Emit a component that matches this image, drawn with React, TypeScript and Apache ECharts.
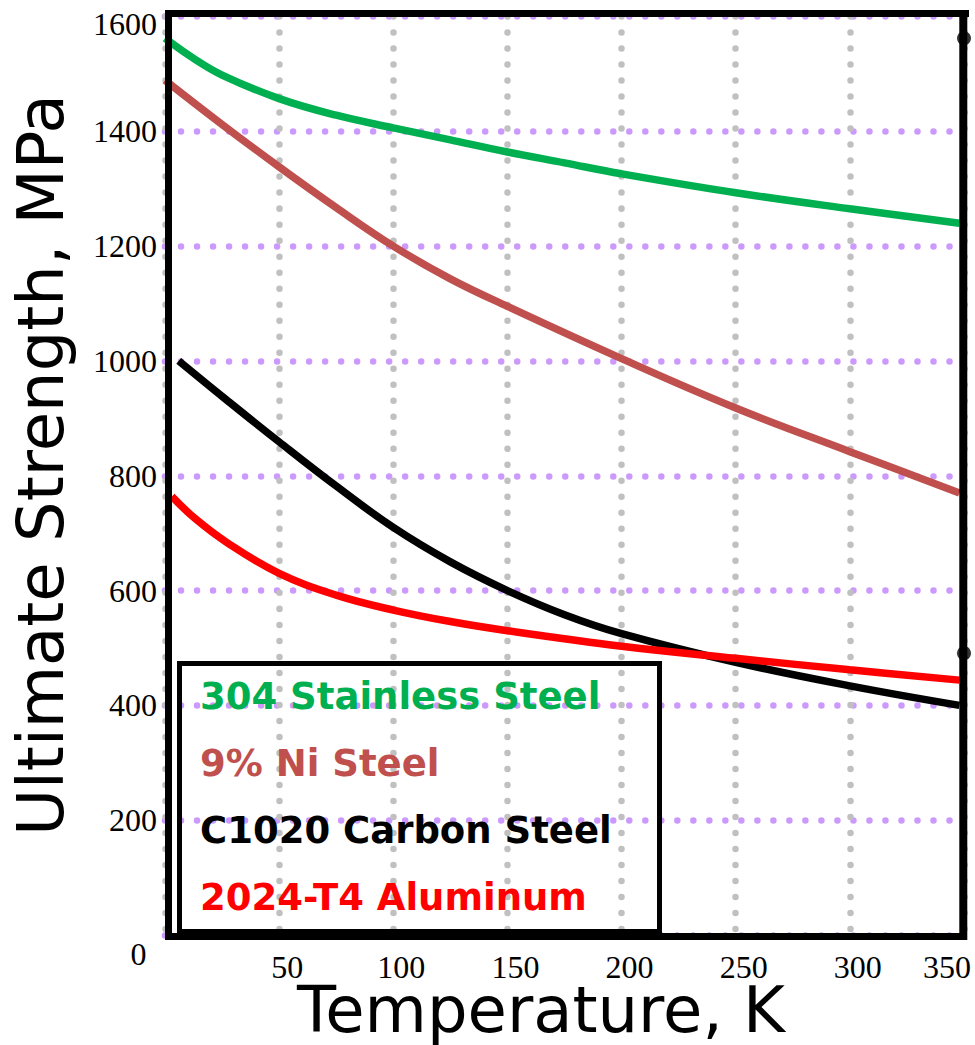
import { useEffect, useRef } from "react";
import * as echarts from "echarts";

// Temperature axis (K) and strength axis (MPa)
const tempTicks = [0, 50, 100, 150, 200, 250, 300, 350];
const strengthTicks = [0, 200, 400, 600, 800, 1000, 1200, 1400, 1600];

// 304 Stainless Steel
const stainlessT = [0, 12.5, 25, 50, 75, 100, 125, 150, 175, 200, 250, 300, 348];
const stainlessUTS = [1562, 1527, 1498, 1457, 1428, 1406, 1385, 1364, 1345, 1326, 1293, 1265, 1240];

// 9% Ni Steel
const nickelT = [0, 25, 50, 75, 100, 125, 150, 200, 250, 300, 348];
const nickelUTS = [1489, 1412, 1338, 1267, 1200, 1143, 1095, 1004, 918, 842, 770];

// C1020 Carbon Steel
const carbonT = [6, 27, 50, 75, 100, 125, 150, 175, 200, 250, 300, 348];
const carbonUTS = [1000, 932, 859, 782, 710, 650, 600, 558, 525, 475, 434, 400];

// 2024-T4 Aluminum
const aluminumT = [3, 13, 27, 50, 75, 100, 125, 150, 200, 250, 300, 348];
const aluminumUTS = [764, 726, 684, 630, 592, 566, 546, 530, 503, 482, 462, 444];

// Markers sitting on the right frame at 350 K
const endMarkT = [350, 350];
const endMarkUTS = [1562, 491];

const seriesNames = [
  "304 Stainless Steel",
  "9% Ni Steel",
  "C1020 Carbon Steel",
  "2024-T4 Aluminum",
];
const seriesColors = ["#00b050", "#c0504d", "#000000", "#ff0000"];

const zip = (xs: number[], ys: number[]) => xs.map((x, i) => [x, ys[i]]);

export default function App() {
  const ref = useRef<HTMLDivElement>(null);

  useEffect(() => {
    if (!ref.current) return;
    const chart = echarts.init(ref.current, null, { renderer: "svg" });

    const serif = "Liberation Serif";
    const sans = "DejaVu Sans";
    const dotted = (color: any) => ({
      show: true,
      lineStyle: { color, width: 6.5, type: [0.01, 16], cap: "round" },
    });

    const curves = [
      zip(stainlessT, stainlessUTS),
      zip(nickelT, nickelUTS),
      zip(carbonT, carbonUTS),
      zip(aluminumT, aluminumUTS),
    ];

    const frame = "#000000";
    const option: any = {
      animation: false,
      backgroundColor: "#ffffff",
      grid: { left: 165, top: 16.5, width: 799, height: 918.5, containLabel: false },
      xAxis: {
        type: "value",
        min: tempTicks[0],
        max: tempTicks[tempTicks.length - 1],
        interval: tempTicks[1] - tempTicks[0],
        axisLine: { show: false },
        axisTick: { show: false },
        axisLabel: {
          margin: 16,
          showMinLabel: true,
          showMaxLabel: true,
          color: "#000",
          fontFamily: serif,
          fontSize: 32,
          formatter: (v: number) =>
            v === 0 ? "" : v === 350 ? `{end|${v}}` : `{mid|${v}}`,
          rich: {
            mid: { fontFamily: serif, fontSize: 32, color: "#000", padding: [0, 0, 0, 16] },
            end: { fontFamily: serif, fontSize: 32, color: "#000", padding: [0, 34, 0, 0] },
          },
        },
        splitLine: dotted([
          "#c0c0c0", "#c0c0c0", "#c0c0c0", "#c0c0c0",
          "#c0c0c0", "#c0c0c0", "#c0c0c0", "#cc99ff",
        ]),
      },
      yAxis: {
        type: "value",
        min: strengthTicks[0],
        max: strengthTicks[strengthTicks.length - 1],
        interval: strengthTicks[1] - strengthTicks[0],
        axisLine: { show: false },
        axisTick: { show: false },
        axisLabel: {
          margin: 8,
          showMinLabel: true,
          showMaxLabel: true,
          color: "#000",
          fontFamily: serif,
          fontSize: 32,
          formatter: (v: number) =>
            v === 0 ? "" : v === 1600 ? `{top|${v}}` : `${v}`,
          rich: {
            top: { fontFamily: serif, fontSize: 32, color: "#000", padding: [15, 0, 0, 0] },
          },
        },
        splitLine: dotted("#cc99ff"),
      },
      legend: {
        orient: "vertical",
        left: 195,
        top: 678,
        icon: "none",
        itemWidth: 0,
        itemHeight: 0,
        itemGap: 30,
        padding: 0,
        selectedMode: false,
        textStyle: {
          fontFamily: sans,
          fontWeight: "bold",
          fontSize: 37,
          lineHeight: 37,
        },
        data: seriesNames.map((name, i) => ({
          name,
          textStyle: { color: seriesColors[i] },
        })),
      },
      series: [
        ...curves.map((data, i) => ({
          name: seriesNames[i],
          type: "line",
          data,
          smooth: 0.4,
          showSymbol: false,
          silent: true,
          lineStyle: { color: seriesColors[i], width: 7.5 },
          itemStyle: { color: seriesColors[i] },
          z: 3,
        })),
        {
          name: "marks",
          type: "scatter",
          data: zip(endMarkT, endMarkUTS),
          symbol: "circle",
          symbolSize: 14,
          silent: true,
          itemStyle: { color: "#000" },
          z: 20,
        },
      ],
      graphic: [
        // plot frame
        { type: "line", z: 10, shape: { x1: 165, y1: 13.5, x2: 969, y2: 13.5 }, style: { stroke: frame, lineWidth: 7 } },
        { type: "line", z: 10, shape: { x1: 168.5, y1: 10, x2: 168.5, y2: 937 }, style: { stroke: frame, lineWidth: 7 } },
        { type: "line", z: 10, shape: { x1: 165, y1: 936.5, x2: 967, y2: 936.5 }, style: { stroke: frame, lineWidth: 7 } },
        { type: "line", z: 10, shape: { x1: 963.3, y1: 17, x2: 963.3, y2: 940 }, style: { stroke: frame, lineWidth: 8 } },
        // legend box
        {
          type: "rect",
          z: 10,
          shape: { x: 179.5, y: 663.5, width: 480, height: 268 },
          style: { fill: "none", stroke: frame, lineWidth: 5 },
        },
        // origin label
        {
          type: "text",
          x: 138.5,
          y: 954,
          style: { text: "0", fontFamily: serif, fontSize: 32, fill: "#000", align: "center", verticalAlign: "middle" },
        },
        // axis titles
        {
          type: "text",
          x: 41,
          y: 465,
          rotation: Math.PI / 2,
          style: {
            text: "Ultimate Strength, MPa",
            fontFamily: sans,
            fontSize: 64,
            lineHeight: 56,
            fill: "#000",
            align: "center",
            verticalAlign: "middle",
          },
        },
        {
          type: "text",
          x: 541,
          y: 1010,
          style: {
            text: "Temperature, K",
            fontFamily: sans,
            fontSize: 64,
            lineHeight: 56,
            fill: "#000",
            align: "center",
            verticalAlign: "middle",
          },
        },
      ],
    };

    chart.setOption(option);
    return () => chart.dispose();
  }, []);

  return (
    <div
      ref={ref}
      style={{ position: "absolute", left: 0, top: 0, width: 975, height: 1045 }}
    />
  );
}
